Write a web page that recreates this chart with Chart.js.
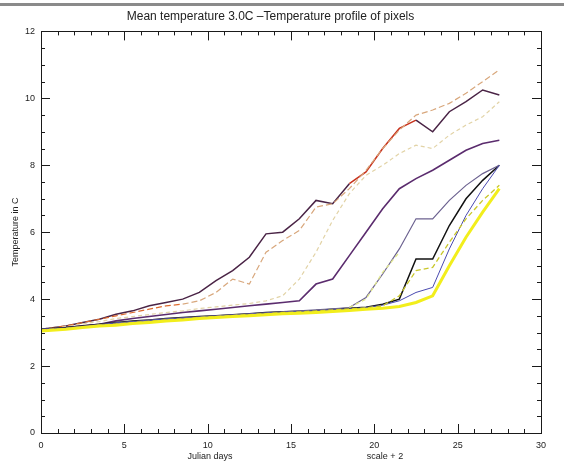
<!DOCTYPE html>
<html>
<head>
<meta charset="utf-8">
<script src="https://cdn.jsdelivr.net/npm/chart.js@4"></script>
<style>
  html, body { margin: 0; padding: 0; background: #ffffff; }
  #wrap { width: 564px; height: 464px; }
</style>
</head>
<body>
<div id="wrap"><canvas id="chart" width="564" height="464"></canvas></div>
<script>
(function () {

// ---------------------------------------------------------------- data
var days = [0, 1.5, 2.5, 3.5, 4.5, 5.5, 6.5, 7.5, 8.5, 9.5, 10.5, 11.5, 12.5, 13.5,
            14.5, 15.5, 16.5, 17.5, 18.5, 19.5, 20.5, 21.5, 22.5, 23.5, 24.5, 25.5, 26.5, 27.5];

var pixTan     = [3.1, 3.2, 3.3, 3.4, 3.5, 3.6, 3.7, 3.8, 3.85, 3.95, 4.2, 4.6, 4.45, 5.4,
                  5.75, 6.05, 6.75, 6.85, 7.3, 7.85, 8.5, 9.05, 9.5, 9.65, 9.85, 10.15, 10.5, 10.85];
var pixDark    = [3.1, 3.2, 3.3, 3.4, 3.55, 3.65, 3.8, 3.9, 4.0, 4.2, 4.55, 4.85, 5.25, 5.95,
                  6.0, 6.4, 6.95, 6.85, 7.45, 7.8, 8.5, 9.1, 9.35, 9.0, 9.6, 9.9, 10.25, 10.1];
var pixPale    = [3.1, 3.18, 3.26, 3.33, 3.42, 3.48, 3.54, 3.6, 3.65, 3.72, 3.77, 3.82, 3.87, 3.95,
                  4.1, 4.6, 5.4, 6.35, 7.15, 7.7, 8.0, 8.35, 8.6, 8.5, 8.9, 9.2, 9.45, 9.9];
var pixPurple  = [3.1, 3.15, 3.2, 3.25, 3.35, 3.42, 3.48, 3.54, 3.6, 3.65, 3.7, 3.75, 3.8, 3.85,
                  3.9, 3.95, 4.45, 4.6, 5.3, 6.0, 6.7, 7.3, 7.6, 7.85, 8.15, 8.45, 8.65, 8.75];
var pixGrey    = [3.1, 3.14, 3.19, 3.24, 3.29, 3.33, 3.37, 3.41, 3.44, 3.47, 3.5, 3.53, 3.56, 3.59,
                  3.62, 3.65, 3.68, 3.71, 3.75, 4.05, 4.75, 5.5, 6.4, 6.4, 6.95, 7.4, 7.75, 8.0];
var pixBlack   = [3.1, 3.15, 3.2, 3.25, 3.3, 3.35, 3.38, 3.42, 3.45, 3.48, 3.5, 3.53, 3.56, 3.6,
                  3.62, 3.64, 3.66, 3.7, 3.73, 3.76, 3.85, 4.0, 5.2, 5.2, 6.2, 7.0, 7.55, 8.0];
var pixBlue    = [3.1, 3.12, 3.18, 3.22, 3.28, 3.32, 3.36, 3.4, 3.43, 3.46, 3.49, 3.52, 3.55, 3.58,
                  3.6, 3.63, 3.65, 3.68, 3.71, 3.75, 3.82, 3.95, 4.2, 4.35, 5.5, 6.5, 7.3, 8.0];
var pixYelDash = [3.08, 3.12, 3.17, 3.22, 3.26, 3.3, 3.34, 3.38, 3.41, 3.45, 3.48, 3.51, 3.54, 3.57,
                  3.6, 3.62, 3.65, 3.68, 3.71, 3.74, 3.8, 4.1, 4.85, 4.95, 5.7, 6.4, 6.95, 7.4];
var pixYellow  = [3.05, 3.1, 3.15, 3.2, 3.22, 3.27, 3.3, 3.35, 3.38, 3.42, 3.45, 3.48, 3.5, 3.53,
                  3.56, 3.58, 3.6, 3.63, 3.66, 3.7, 3.73, 3.78, 3.9, 4.1, 5.0, 5.85, 6.6, 7.3];
var pixLime    = [null, null, null, null, null, null, null, null, null, null, null, null, null, null,
                  null, null, null, null, 3.75, 4.0, 4.8, 5.4, null, null, null, null, null, null];

var xTickLabels = [0, 5, 10, 15, 20, 25, 30];
var yTickLabels = [0, 2, 4, 6, 8, 10, 12];

// ---------------------------------------------------------------- helpers
function pts(values) {
    return values.map(function (v, i) { return { x: days[i], y: v }; });
}

function series(values, color, width, dash, segFn) {
    var ds = {
        data: pts(values),
        borderColor: color,
        borderWidth: width,
        borderDash: dash || [],
        pointRadius: 0,
        tension: 0,
        fill: false
    };
    if (segFn) ds.segment = { borderColor: segFn };
    return ds;
}

// IDL style box with inward ticks and free placed axis titles
var idlFrame = {
    id: 'idlFrame',
    afterDraw: function (chart) {
        var ctx = chart.ctx, a = chart.chartArea;
        var xs = chart.scales.x, ys = chart.scales.y;
        ctx.save();

        // scan bar on the top of the page
        ctx.fillStyle = '#8a8a8a';
        ctx.fillRect(0, 3, 564, 3);

        ctx.strokeStyle = '#1a1a1a';
        ctx.lineWidth = 1;
        ctx.strokeRect(Math.round(a.left) + 0.5, Math.round(a.top) + 0.5,
                       Math.round(a.width), Math.round(a.height));

        ctx.beginPath();
        for (var v = 0; v <= 30; v++) {
            var px = Math.round(xs.getPixelForValue(v)) + 0.5;
            var len = (v % 5 === 0) ? 9 : 4;
            ctx.moveTo(px, a.bottom); ctx.lineTo(px, a.bottom - len);
            ctx.moveTo(px, a.top);    ctx.lineTo(px, a.top + len);
        }
        for (var t = 0; t <= 24; t++) {
            var val = t * 0.5;
            var py = Math.round(ys.getPixelForValue(val)) + 0.5;
            var l2 = (val % 2 === 0) ? 9 : 4;
            ctx.moveTo(a.left, py);  ctx.lineTo(a.left + l2, py);
            ctx.moveTo(a.right, py); ctx.lineTo(a.right - l2, py);
        }
        ctx.stroke();

        ctx.fillStyle = '#222222';
        ctx.font = '9px "Liberation Sans", Arial, sans-serif';
        ctx.textAlign = 'center';
        ctx.textBaseline = 'middle';
        ctx.fillText('Julian days', 210, 457);
        ctx.fillText('scale + 2', 385, 457);

        ctx.translate(16, 232);
        ctx.rotate(-Math.PI / 2);
        ctx.fillText('Temperature in C', 0, 0);
        ctx.restore();
    }
};

// ---------------------------------------------------------------- chart
try {
    var canvas = document.getElementById('chart');
    var c = canvas.getContext('2d');

    new Chart(c, {
        type: 'line',
        data: {
            datasets: [
                series(pixYellow, '#f2ee1c', 3),
                series(pixYelDash, '#c9c72a', 1.3, [5, 3]),
                series(pixLime, '#dfe68c', 1.3, [4, 3]),
                series(pixBlue, '#4a4ab0', 1),
                series(pixGrey, '#6c6290', 1.2),
                series(pixBlack, '#121212', 1.5),
                series(pixPurple, '#5b2c6e', 1.6),
                series(pixPale, '#e2d3a6', 1.2, [4, 3]),
                series(pixTan, '#d8a77c', 1.2, [6, 3], function (s) {
                    return s.p0DataIndex < 8 ? '#de6a2e' : undefined;
                }),
                series(pixDark, '#4a2446', 1.5, null, function (s) {
                    return (s.p0DataIndex >= 18 && s.p0DataIndex < 22) ? '#c8341e' : undefined;
                })
            ]
        },
        options: {
            responsive: false,
            animation: false,
            layout: { padding: { top: 0, left: 0, right: 23, bottom: 0 } },
            plugins: {
                legend: { display: false },
                tooltip: { enabled: false },
                title: {
                    display: true,
                    text: 'Mean temperature 3.0C \u2013Temperature profile of pixels',
                    color: '#222222',
                    font: { family: '"Liberation Sans", Arial, sans-serif', size: 12, weight: 'normal' },
                    padding: { top: 9, bottom: 8 }
                }
            },
            scales: {
                x: {
                    type: 'linear',
                    min: 0,
                    max: 30,
                    afterFit: function (s) { s.height = 31; },
                    afterBuildTicks: function (s) {
                        s.ticks = xTickLabels.map(function (v) { return { value: v }; });
                    },
                    grid: { display: false, drawTicks: false },
                    border: { display: false },
                    ticks: {
                        color: '#222222',
                        padding: 7,
                        maxRotation: 0,
                        font: { family: '"Liberation Sans", Arial, sans-serif', size: 9 }
                    }
                },
                y: {
                    min: 0,
                    max: 12,
                    afterFit: function (s) { s.width = 41; },
                    afterBuildTicks: function (s) {
                        s.ticks = yTickLabels.map(function (v) { return { value: v }; });
                    },
                    grid: { display: false, drawTicks: false },
                    border: { display: false },
                    ticks: {
                        color: '#222222',
                        padding: 6,
                        font: { family: '"Liberation Sans", Arial, sans-serif', size: 9 }
                    }
                }
            }
        },
        plugins: [idlFrame]
    });
} catch (e) {
    console.log('Error in chart: ' + e);
}

})();
</script>
</body>
</html>
